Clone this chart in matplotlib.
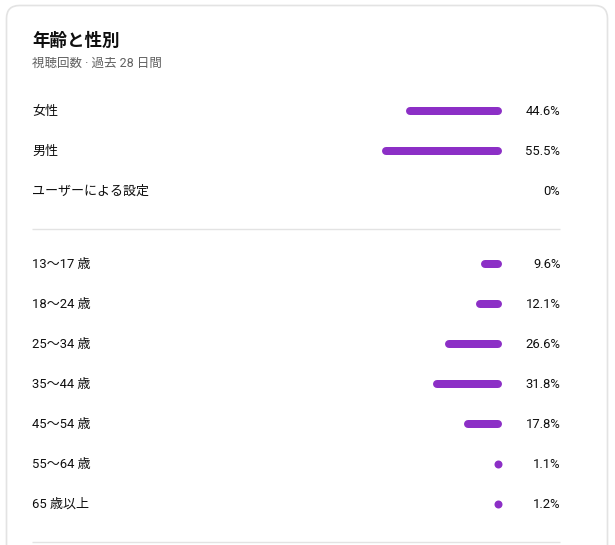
import matplotlib
matplotlib.use("Agg")
import matplotlib.pyplot as plt
from matplotlib.patches import FancyBboxPatch

# ---- data ----
title = "年齢と性別"
subtitle = "視聴回数 · 過去 28 日間"
gender_labels = ["女性", "男性", "ユーザーによる設定"]
gender_values = [44.6, 55.5, 0.0]
gender_texts = ["44.6%", "55.5%", "0%"]
age_labels = ["13〜17 歳", "18〜24 歳", "25〜34 歳", "35〜44 歳", "45〜54 歳", "55〜64 歳", "65 歳以上"]
age_values = [9.6, 12.1, 26.6, 31.8, 17.8, 1.1, 1.2]
age_texts = ["9.6%", "12.1%", "26.6%", "31.8%", "17.8%", "1.1%", "1.2%"]

# ---- style / layout ----
FONT = ["Roboto", "Noto Sans CJK JP", "DejaVu Sans"]
plt.rcParams["font.family"] = FONT
BAR_COLOR = "#8c2fc6"
TEXT = "#0f0f0f"
GREY = "#606060"
LINE = "#e3e3e3"
W, H = 615, 545
PX_PER_PCT = 2.16
BAR_RIGHT = 498        # centre of the right cap, px
BAR_LEFT = 370
BAR_LW_PX = 8

fig = plt.figure(figsize=(W / 100, H / 100), dpi=100)
bg = fig.add_axes([0, 0, 1, 1])
bg.set_xlim(0, W)
bg.set_ylim(H, 0)
bg.axis("off")

card = FancyBboxPatch((6.5, 5.5), 601, 600, boxstyle="round,pad=0,rounding_size=13",
                      fc="white", ec=LINE, lw=1.2)
bg.add_patch(card)

bg.text(32, 40, title, fontsize=12.6, fontweight="bold", color=TEXT, va="center", ha="left")
bg.text(32, 63, subtitle, fontsize=9.0, color=GREY, va="center", ha="left")

gender_y = [111, 151, 191]
age_y = [264 + 40 * i for i in range(len(age_labels))]

for y, lab, t in zip(gender_y + age_y, gender_labels + age_labels, gender_texts + age_texts):
    bg.text(32, y + 0.5, lab, fontsize=9.4, color=TEXT, va="center", ha="left")
    bg.text(560.5, y + 0.5, t, fontsize=9.4, color=TEXT, va="center", ha="right")

for y in (228.5, 541.5):
    bg.plot([32, 560], [y, y], color=LINE, lw=1.0, solid_capstyle="butt")

# bar axes: x in percent, grows leftwards from BAR_RIGHT
ax = fig.add_axes([BAR_LEFT / W, 0, (BAR_RIGHT - BAR_LEFT) / W, 1])
ax.set_xlim((BAR_RIGHT - BAR_LEFT) / PX_PER_PCT, 0)
ax.set_ylim(H, 0)
ax.axis("off")
ax.patch.set_alpha(0)

cap_pct = BAR_LW_PX / PX_PER_PCT
lw_pt = BAR_LW_PX * 72 / 100
for y, v in zip(gender_y + age_y, gender_values + age_values):
    if v <= 0:
        continue
    length = v - cap_pct
    if length > 0.05:
        ax.plot([0, length], [y, y], color=BAR_COLOR, lw=lw_pt,
                solid_capstyle="round", clip_on=False)
    else:
        ax.plot([0], [y], marker="o", ms=lw_pt, color=BAR_COLOR, mec="none",
                clip_on=False)

fig.savefig("out.png", dpi=100, facecolor="white")
